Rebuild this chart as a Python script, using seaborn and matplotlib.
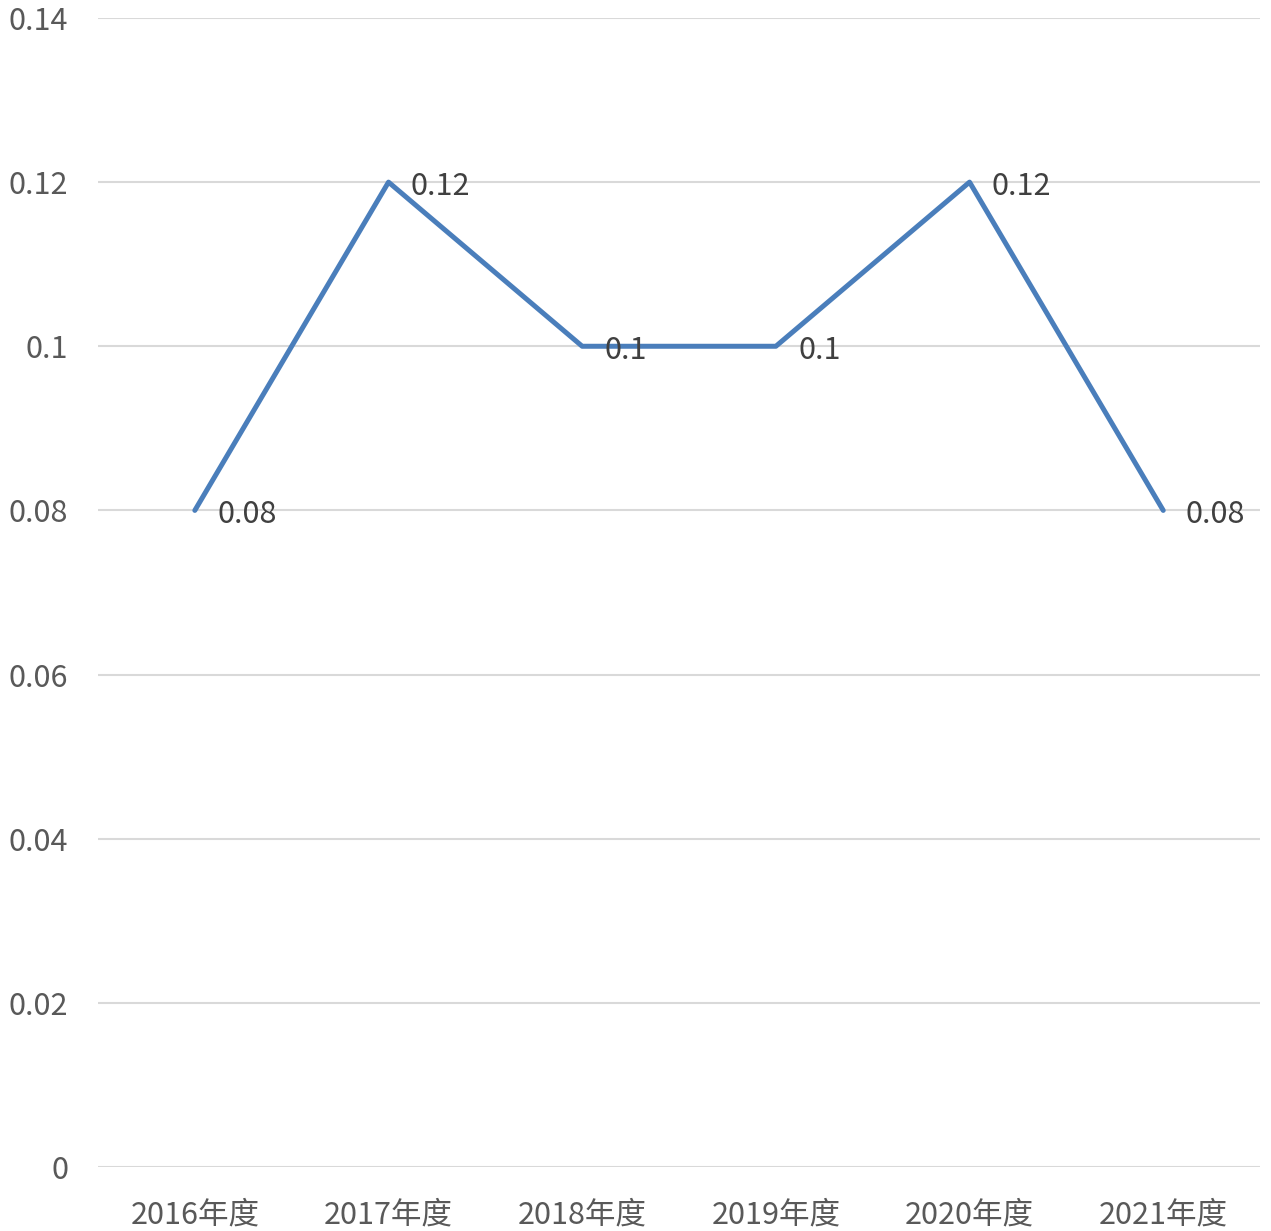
import pandas as pd
import seaborn as sns
import matplotlib.pyplot as plt

# Data
years = ['2016年度', '2017年度', '2018年度', '2019年度', '2020年度', '2021年度']
values = [0.08, 0.12, 0.1, 0.1, 0.12, 0.08]
value_labels = ['0.08', '0.12', '0.1', '0.1', '0.12', '0.08']
y_ticks = [0, 0.02, 0.04, 0.06, 0.08, 0.1, 0.12, 0.14]
y_tick_labels = ['0', '0.02', '0.04', '0.06', '0.08', '0.1', '0.12', '0.14']

sns.set_theme(style='white')
plt.rcParams['font.family'] = ['Noto Sans CJK SC', 'DejaVu Sans']

df = pd.DataFrame({'Year': years, 'Value': values})

fig = plt.figure(figsize=(12.71, 12.31), dpi=100)
ax = fig.add_axes([0.0771, 0.052, 0.9143, 0.9334])

sns.lineplot(data=df, x='Year', y='Value', ax=ax, color='#4A7EBB', linewidth=3.6, sort=False)

# Data labels to the right of each point
for i, (v, lab) in enumerate(zip(values, value_labels)):
    ax.annotate(lab, (i, v), xytext=(16, -3), textcoords='offset points',
                ha='left', va='center', fontsize=22, color='#404040')

ax.set_xlim(-0.5, len(years) - 0.5)
ax.set_ylim(0, 0.14)
ax.set_yticks(y_ticks)
ax.set_yticklabels(y_tick_labels)
ax.yaxis.grid(True, color='#D9D9D9', linewidth=1.5)
ax.set_axisbelow(True)
ax.tick_params(axis='both', length=0, labelsize=22, colors='#595959')
ax.tick_params(axis='y', pad=21.5)
ax.tick_params(axis='x', pad=23.5)
ax.set_xlabel('')
ax.set_ylabel('')
for side in ['top', 'right', 'left', 'bottom']:
    ax.spines[side].set_visible(False)

plt.savefig('out.png', dpi=100)
plt.close()
